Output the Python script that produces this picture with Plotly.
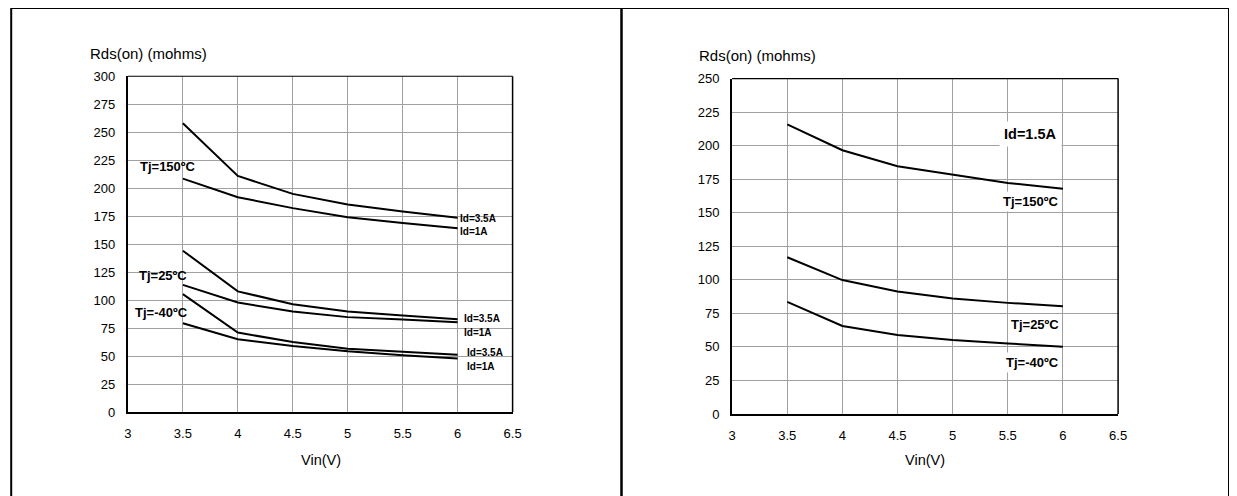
import plotly.graph_objects as go

# ---------------- data ----------------
vin = [3.5, 4.0, 4.5, 5.0, 5.5, 6.0]

# left chart: Rds(on) vs Vin for Id=3.5A / Id=1A at three temperatures
l_150_3p5A = [258, 211, 195, 185.5, 179.3, 173.6]
l_150_1A = [208.6, 192, 182.3, 174.2, 169, 164.4]
l_25_3p5A = [144.3, 108, 96.5, 90, 86.5, 83.2]
l_25_1A = [113.8, 98, 90, 85, 82.8, 80.4]
l_m40_3p5A = [105.5, 71.2, 62.7, 56.8, 54, 51.5]
l_m40_1A = [79.5, 65.2, 59.2, 54.5, 51, 48]

# right chart: Id=1.5A
r_150 = [215.8, 196.6, 184.6, 178.6, 172.2, 167.9]
r_25 = [116.8, 99.8, 91.3, 86.1, 82.8, 80.3]
r_m40 = [83.5, 65.6, 58.8, 55.1, 52.6, 50.1]

x_ticks = [3, 3.5, 4, 4.5, 5, 5.5, 6, 6.5]
left_y_ticks = list(range(0, 301, 25))
right_y_ticks = list(range(0, 251, 25))

W, H = 1237, 496
FONT = "Liberation Sans, Arial, sans-serif"

fig = go.Figure()

line_style = dict(color="black", width=2)
for ys in [l_150_3p5A, l_150_1A, l_25_3p5A, l_25_1A, l_m40_3p5A, l_m40_1A]:
    fig.add_trace(go.Scatter(x=vin, y=ys, mode="lines", line=line_style,
                             xaxis="x", yaxis="y", showlegend=False, hoverinfo="skip"))
for ys in [r_150, r_25, r_m40]:
    fig.add_trace(go.Scatter(x=vin, y=ys, mode="lines", line=line_style,
                             xaxis="x2", yaxis="y2", showlegend=False, hoverinfo="skip"))

# map screen pixels of the target picture to paper coordinates of the rendered page
def px(x):
    return (x - 10) / 1225

def py(y):
    return 1 - (y - 17) / 479

grid = "#a0a0a0"
common_x = dict(range=[3, 6.5], tickvals=x_ticks, ticktext=[f"{v:g}" for v in x_ticks],
                showgrid=True, gridcolor=grid, gridwidth=1, zeroline=False,
                showline=True, linecolor="black", linewidth=2, ticks="",
                ticklabelstandoff=8, tickfont=dict(family=FONT, size=13, color="black"))
common_y = dict(showgrid=True, gridcolor=grid, gridwidth=1, zeroline=False,
                showline=True, linecolor="black", linewidth=2, ticks="",
                ticklabelstandoff=8, tickfont=dict(family=FONT, size=13, color="black"))

fig.update_layout(
    width=W, height=H, margin=dict(l=0, r=0, t=0, b=0),
    paper_bgcolor="white", plot_bgcolor="white",
    xaxis=dict(domain=[px(126), px(511)], anchor="y", **common_x),
    yaxis=dict(domain=[py(412.7), py(78)], anchor="x", range=[0, 300],
               tickvals=left_y_ticks, **common_y),
    xaxis2=dict(domain=[px(730.7), px(1117)], anchor="y2", **common_x),
    yaxis2=dict(domain=[py(414.3), py(80.3)], anchor="x2", range=[0, 250],
                tickvals=right_y_ticks, **common_y),
)

shapes = []
# thin top / right borders of the plot areas
for xr, yr in [("x", "y"), ("x2", "y2")]:
    shapes.append(dict(type="line", xref=f"{xr} domain", yref=f"{yr} domain",
                       x0=0, x1=1, y0=1, y1=1, line=dict(color="black", width=1.2)))
    shapes.append(dict(type="line", xref=f"{xr} domain", yref=f"{yr} domain",
                       x0=1, x1=1, y0=0, y1=1, line=dict(color="black", width=1.5)))
# panel frames
shapes.append(dict(type="rect", xref="paper", yref="paper", x0=px(9.2), x1=px(620),
                   y0=-0.1, y1=py(10), line=dict(color="black", width=2)))
shapes.append(dict(type="rect", xref="paper", yref="paper", x0=px(620), x1=px(1228),
                   y0=-0.1, y1=py(10), line=dict(color="black", width=2)))
fig.update_layout(shapes=shapes)

ann = []
def add(text, x, y, xref, yref, size, bold=False, xanchor="left", bg=None, pad=1):
    d = dict(text=f"<b>{text}</b>" if bold else text, x=x, y=y, xref=xref, yref=yref,
             xanchor=xanchor, yanchor="middle", showarrow=False,
             font=dict(family=FONT, size=size, color="black"), borderpad=pad)
    if bg:
        d["bgcolor"] = bg
    ann.append(d)

# axis titles
add("Rds(on) (mohms)", px(86), py(55), "paper", "paper", 15)
add("Rds(on) (mohms)", px(696), py(57), "paper", "paper", 15)
add("Vin(V)", px(319), py(460), "paper", "paper", 14.5, xanchor="center")
add("Vin(V)", px(924), py(460), "paper", "paper", 14.5, xanchor="center")

# left chart labels
add("Tj=150ºC", 3.09, 219.5, "x", "y", 13, True)
add("Tj=25ºC", 3.08, 122.5, "x", "y", 13, True)
add("Tj=-40ºC", 3.045, 89, "x", "y", 13, True)
add("Id=3.5A", 6.0, 172.7, "x", "y", 10, True)
add("Id=1A", 6.0, 161.7, "x", "y", 10, True)
add("Id=3.5A", 6.036, 84, "x", "y", 10, True)
add("Id=1A", 6.036, 71.7, "x", "y", 10, True)
add("Id=3.5A", 6.064, 53.8, "x", "y", 10, True)
add("Id=1A", 6.064, 41.2, "x", "y", 10, True)

# right chart labels
add("Id=1.5A", 5.99, 208.5, "x2", "y2", 14.5, True, xanchor="right", bg="white", pad=4)
add("Tj=150ºC", 5.99, 158.4, "x2", "y2", 13, True, xanchor="right", bg="white", pad=2)
add("Tj=25ºC", 5.99, 66.8, "x2", "y2", 13, True, xanchor="right", bg="white", pad=2)
add("Tj=-40ºC", 5.99, 38.2, "x2", "y2", 13, True, xanchor="right", bg="white", pad=2)

fig.update_layout(annotations=ann)

fig.write_html("out.html")
